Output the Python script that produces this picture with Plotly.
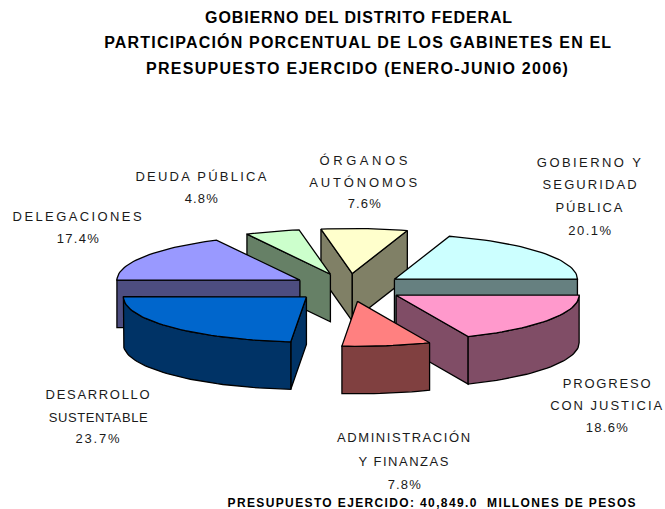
import json
import math
import plotly.graph_objects as go

# ---- data ----
categories = ["GOBIERNO Y SEGURIDAD PÚBLICA", "PROGRESO CON JUSTICIA", "ADMINISTRACIÓN Y FINANZAS",
              "DESARROLLO SUSTENTABLE", "DELEGACIONES", "DEUDA PÚBLICA", "ÓRGANOS AUTÓNOMOS"]
values = [20.1, 18.6, 7.8, 23.7, 17.4, 4.8, 7.6]
label_lines = [["GOBIERNO Y", "SEGURIDAD", "PÚBLICA"], ["PROGRESO", "CON JUSTICIA"],
               ["ADMINISTRACIÓN", "Y FINANZAS"], ["DESARROLLO", "SUSTENTABLE"],
               ["DELEGACIONES"], ["DEUDA PÚBLICA"], ["ÓRGANOS", "AUTÓNOMOS"]]
top_colors = ["#CCFFFF", "#FF99CC", "#FF8080", "#0066CC", "#9999FF", "#CCFFCC", "#FFFFCC"]
wall_colors = ["#668080", "#804D66", "#804040", "#003366", "#4D4D80", "#668066", "#808066"]
title_lines = ["GOBIERNO DEL DISTRITO FEDERAL",
               "PARTICIPACIÓN PORCENTUAL DE LOS GABINETES EN EL",
               "PRESUPUESTO EJERCIDO (ENERO-JUNIO 2006)"]
footer = "PRESUPUESTO EJERCIDO: 40,849.0  MILLONES DE PESOS"

# ---- pie geometry (plot area uses the page's pixel scale) ----
W, H = 665, 509
first_angle = 17.5
cx, cy = 348.5, 287.5
rx, ry = 183, 45
depth = 47.5
explode_x, explode_y = 57, 14
paint_order = [6, 5, 4, 0, 1, 2, 3]

# ---- text layout ----
label_cx = [590, 607, 404.5, 98, 78.5, 202, 365]
label_ys = [[162, 184, 207, 230], [383, 405, 427], [437, 461, 484], [394, 417, 438],
            [216, 238], [176, 198], [160, 182, 203]]
line_widths = {
    "GOBIERNO Y": 104, "SEGURIDAD": 94, "PÚBLICA": 67, "20.1%": 43,
    "PROGRESO": 88, "CON JUSTICIA": 112, "18.6%": 42,
    "ADMINISTRACIÓN": 133, "Y FINANZAS": 90, "7.8%": 33,
    "DESARROLLO": 104, "SUSTENTABLE": 99, "23.7%": 44,
    "DELEGACIONES": 129, "17.4%": 42,
    "DEUDA PÚBLICA": 131, "4.8%": 33,
    "ÓRGANOS": 88, "AUTÓNOMOS": 108, "7.6%": 33,
    title_lines[0]: 307, title_lines[1]: 507, title_lines[2]: 422, footer: 408,
}


def pt(tip, deg):
    a = math.radians(deg)
    return tip[0] + rx * math.sin(a), tip[1] - ry * math.cos(a)


def arc(tip, a0, a1):
    n = max(2, int(abs(a1 - a0) / 2) + 1)
    return [pt(tip, a0 + (a1 - a0) * i / (n - 1)) for i in range(n)]


def poly(points, color):
    xs = [p[0] for p in points] + [points[0][0]]
    ys = [p[1] for p in points] + [points[0][1]]
    return go.Scatter(x=xs, y=ys, mode="lines", fill="toself", fillcolor=color,
                      line=dict(color="#000000", width=1.3), hoverinfo="skip", showlegend=False)


def down(points):
    return [(x, y + depth) for x, y in points]


fig = go.Figure()
total = sum(values)
bounds = []
a = first_angle
for v in values:
    bounds.append((a, a + v / total * 360))
    a += v / total * 360

for i in paint_order:
    a0, a1 = bounds[i]
    mid = math.radians((a0 + a1) / 2)
    tip = (cx + explode_x * math.sin(mid), cy - explode_y * math.cos(mid))
    # radial walls that face the viewer
    if math.sin(math.radians(a0)) < 0:
        edge = [tip, pt(tip, a0)]
        fig.add_trace(poly(edge + down(edge)[::-1], wall_colors[i]))
    if math.sin(math.radians(a1)) > 0:
        edge = [tip, pt(tip, a1)]
        fig.add_trace(poly(edge + down(edge)[::-1], wall_colors[i]))
    # outer rim, front half only
    f0, f1 = max(a0, 90), min(a1, 270)
    if f1 > f0:
        rim = arc(tip, f0, f1)
        fig.add_trace(poly(rim + down(rim)[::-1], wall_colors[i]))
    # top face
    fig.add_trace(poly([tip] + arc(tip, a0, a1), top_colors[i]))

FONT = "Liberation Sans"
notes = []
for line, x, y in zip(title_lines, [358.5, 358, 357], [17, 42, 68]):
    notes.append(dict(x=x, y=y, text=f"<b>{line}</b>", font=dict(size=16, color="#000000", family=FONT)))
notes.append(dict(x=432, y=503, text=f"<b>{footer}</b>", font=dict(size=12, color="#000000", family=FONT)))
for i, v in enumerate(values):
    lines = label_lines[i] + [f"{v:.1f}%"]
    for line, y in zip(lines, label_ys[i]):
        notes.append(dict(x=label_cx[i], y=y, text=line, font=dict(size=13, color="#1A1A1A", family=FONT)))
for n in notes:
    n.update(xref="x", yref="y", showarrow=False, xanchor="center", yanchor="middle")

fig.update_layout(width=W, height=H, margin=dict(l=0, r=0, t=0, b=0),
                  paper_bgcolor="#FFFFFF", plot_bgcolor="#FFFFFF", annotations=notes,
                  xaxis=dict(range=[0, W], visible=False, fixedrange=True),
                  yaxis=dict(range=[H, 0], visible=False, fixedrange=True))

post = """
document.body.style.margin='0';
var targets = %s;
document.querySelectorAll('.annotation-text').forEach(function(el){
  var t = el.textContent, w = targets[t];
  if (!w) { w = targets[t.replace(/\\u00a0/g,' ')]; t = t.replace(/\\u00a0/g,' '); }
  if (!w) return;
  var s = (w - el.getComputedTextLength()) / (t.length - 1);
  el.style.letterSpacing = s + 'px';
});
""" % json.dumps(line_widths, ensure_ascii=False)
fig.write_html("out.html", post_script=post, config={"displayModeBar": False})
